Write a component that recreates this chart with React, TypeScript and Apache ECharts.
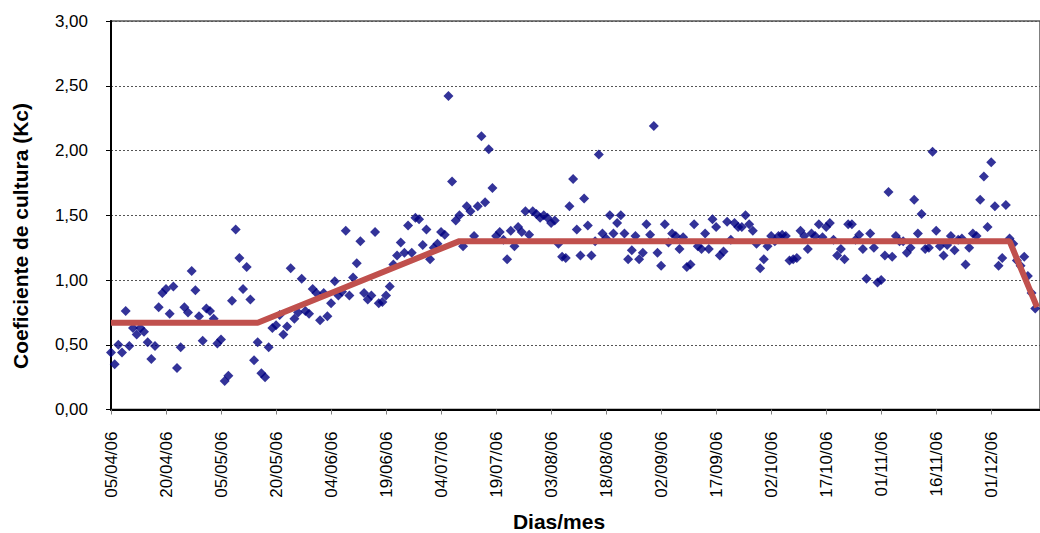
import React, { useEffect, useRef } from "react";
import * as echarts from "echarts";

// Tick labels on the x axis (one every 15 days, starting 05/04/06)
const tickLabels = [
  "05/04/06", "20/04/06", "05/05/06", "20/05/06", "04/06/06", "19/06/06",
  "04/07/06", "19/07/06", "03/08/06", "18/08/06", "02/09/06", "17/09/06",
  "02/10/06", "17/10/06", "01/11/06", "16/11/06", "01/12/06",
];
const tickStepDays = 15;
const axisMaxDay = 253.3;

// Observed Kc, one value per day from 05/04/06 (index = day offset)
const kcObserved = [
  0.44, 0.35, 0.50, 0.44, 0.76, 0.49, 0.63, 0.58, 0.63, 0.60,
  0.52, 0.39, 0.49, 0.79, 0.90, 0.93, 0.74, 0.95, 0.32, 0.48,
  0.79, 0.75, 1.07, 0.92, 0.72, 0.53, 0.78, 0.76, 0.70, 0.51,
  0.54, 0.22, 0.26, 0.84, 1.39, 1.17, 0.93, 1.10, 0.85, 0.38,
  0.52, 0.28, 0.25, 0.48, 0.63, 0.65, 0.73, 0.58, 0.64, 1.09,
  0.70, 0.75, 1.01, 0.76, 0.74, 0.93, 0.90, 0.69, 0.90, 0.72,
  0.82, 0.99, 0.88, 0.91, 1.38, 0.88, 1.02, 1.13, 1.30, 0.90,
  0.85, 0.88, 1.37, 0.82, 0.83, 0.88, 0.95, 1.12, 1.19, 1.29,
  1.21, 1.42, 1.21, 1.48, 1.47, 1.27, 1.39, 1.16, 1.25, 1.28,
  1.37, 1.35, 2.42, 1.76, 1.46, 1.50, 1.26, 1.57, 1.53, 1.34,
  1.57, 2.11, 1.60, 2.01, 1.71, 1.34, 1.37, 1.31, 1.16, 1.38,
  1.26, 1.41, 1.37, 1.53, 1.35, 1.53, 1.51, 1.48, 1.50, 1.48,
  1.44, 1.46, 1.28, 1.18, 1.17, 1.57, 1.78, 1.39, 1.19, 1.63,
  1.42, 1.19, 1.30, 1.97, 1.36, 1.32, 1.50, 1.36, 1.44, 1.50,
  1.36, 1.16, 1.23, 1.34, 1.16, 1.21, 1.43, 1.35, 2.19, 1.21,
  1.11, 1.43, 1.29, 1.36, 1.34, 1.24, 1.33, 1.10, 1.12, 1.43,
  1.26, 1.24, 1.36, 1.24, 1.47, 1.41, 1.19, 1.22, 1.45, 1.31,
  1.44, 1.41, 1.41, 1.50, 1.43, 1.38, 1.28, 1.09, 1.16, 1.26,
  1.34, 1.30, 1.34, 1.35, 1.34, 1.15, 1.16, 1.17, 1.38, 1.34,
  1.24, 1.36, 1.34, 1.43, 1.33, 1.41, 1.44, 1.31, 1.19, 1.24,
  1.16, 1.43, 1.43, 1.31, 1.35, 1.24, 1.01, 1.36, 1.25, 0.98,
  1.00, 1.19, 1.68, 1.18, 1.34, 1.30, 1.30, 1.21, 1.25, 1.62,
  1.36, 1.51, 1.24, 1.25, 1.99, 1.38, 1.26, 1.19, 1.27, 1.34,
  1.23, 1.31, 1.32, 1.12, 1.25, 1.36, 1.34, 1.62, 1.80, 1.41,
  1.91, 1.57, 1.11, 1.17, 1.58, 1.32, 1.28, 1.15, 1.11, 1.18,
  1.03, 0.90, 0.78,
];

// FAO Kc curve (stage break points)
const kcStageDays = [0, 40, 95, 245, 252.5];
const kcStageValues = [0.67, 0.67, 1.3, 1.3, 0.79];

const yMin = 0;
const yMax = 3;
const yStep = 0.5;

const FONT = "'Liberation Sans', Arial, sans-serif";

export default function App() {
  const ref = useRef<HTMLDivElement>(null);

  useEffect(() => {
    document.body.style.margin = "0";
    if (!ref.current) return;
    const chart = echarts.init(ref.current, undefined, { renderer: "svg" });

    const scatterData = kcObserved.map((v, i) => [i, v]);
    const lineData = kcStageDays.map((d, i) => [d, kcStageValues[i]]);

    chart.setOption({
      animation: false,
      backgroundColor: "#ffffff",
      grid: {
        left: 111,
        right: -3,
        top: 21,
        bottom: 123.5,
        show: true,
        borderColor: "#808080",
        borderWidth: 2,
        backgroundColor: "transparent",
      },
      xAxis: {
        type: "value",
        min: 0,
        max: axisMaxDay,
        interval: tickStepDays,
        axisLine: { show: true, onZero: false, lineStyle: { color: "#000", width: 2 } },
        axisTick: { show: true, length: 5, lineStyle: { color: "#808080", width: 1 } },
        splitLine: { show: false },
        axisLabel: {
          rotate: 90,
          margin: 22,
          color: "#000",
          fontFamily: FONT,
          fontSize: 17,
          showMaxLabel: false,
          formatter: (v: number) => {
            const idx = v / tickStepDays;
            if (Math.abs(idx - Math.round(idx)) > 1e-6) return "";
            return tickLabels[Math.round(idx)] ?? "";
          },
        },
      },
      yAxis: {
        type: "value",
        min: yMin,
        max: yMax,
        interval: yStep,
        axisLine: { show: true, lineStyle: { color: "#000", width: 2 } },
        axisTick: { show: true, length: 5, lineStyle: { color: "#000", width: 1 } },
        splitLine: {
          show: true,
          lineStyle: { color: "#555", width: 1, type: [2, 2] },
        },
        axisLabel: {
          margin: 23,
          color: "#000",
          fontFamily: FONT,
          fontSize: 17,
          formatter: (v: number) => v.toFixed(2).replace(".", ","),
        },
      },
      series: [
        {
          type: "scatter",
          data: scatterData,
          symbol: "diamond",
          symbolSize: 10,
          itemStyle: { color: "#000080" },
          z: 2,
        },
        {
          type: "line",
          data: lineData,
          showSymbol: false,
          lineStyle: { color: "#C0504D", width: 6, cap: "butt" },
          z: 3,
        },
      ],
      graphic: [
        {
          type: "text",
          x: 20,
          y: 236,
          rotation: Math.PI / 2,
          style: {
            text: "Coeficiente de cultura (Kc)",
            font: `bold 21px ${FONT}`,
            fill: "#000",
            textAlign: "center",
            textVerticalAlign: "middle",
            align: "center",
            verticalAlign: "middle",
          },
        },
        {
          type: "text",
          x: 559,
          y: 521,
          style: {
            text: "Dias/mes",
            font: `bold 21px ${FONT}`,
            fill: "#000",
            textAlign: "center",
            textVerticalAlign: "middle",
            align: "center",
            verticalAlign: "middle",
          },
        },
      ],
    });

    return () => chart.dispose();
  }, []);

  return <div ref={ref} style={{ width: 1040, height: 533 }} />;
}
